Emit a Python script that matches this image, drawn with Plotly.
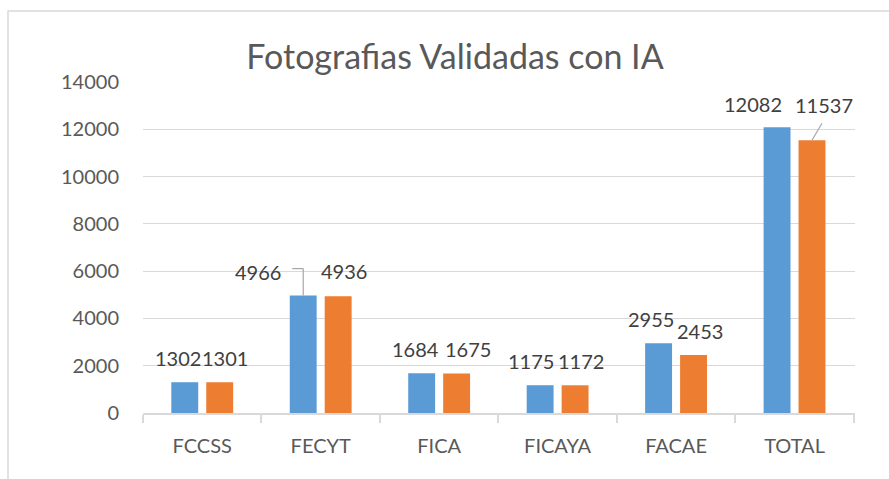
import plotly.graph_objects as go

categories = ["FCCSS", "FECYT", "FICA", "FICAYA", "FACAE", "TOTAL"]
serie_1 = [1302, 4966, 1684, 1175, 2955, 12082]
serie_2 = [1301, 4936, 1675, 1172, 2453, 11537]
y_ticks = [0, 2000, 4000, 6000, 8000, 10000, 12000, 14000]
y_tick_labels = ["0", "2000", "4000", "6000", "8000", "10000", "12000", "14000"]
title_text = "Fotografias Validadas con IA"

# label placement tweaks (pixels) imitating the Excel layout
lab_dx_1 = [-7, -45, -6, -9, -8, -24]
lab_dx_2 = [5, 6, 11, 6, 6, 12]
lab_dy_1 = [24, 24, 24, 24, 24, 23]
lab_dy_2 = [24, 25, 24, 24, 24, 35]

BLUE = "#5B9BD5"
ORANGE = "#ED7D31"
TXT = "#595959"
GRID = "#D9D9D9"
FONT = "Lato"
OFF = 0.1475  # half slot in category units

fig = go.Figure()
fig.add_trace(go.Bar(x=categories, y=serie_1, marker_color=BLUE, marker_line_width=0, name="1"))
fig.add_trace(go.Bar(x=categories, y=serie_2, marker_color=ORANGE, marker_line_width=0, name="2"))

annotations = []
for i, (a, b) in enumerate(zip(serie_1, serie_2)):
    annotations.append(dict(x=i - OFF, y=a, xref="x", yref="y", text=str(a), showarrow=False,
                            xshift=lab_dx_1[i], yshift=lab_dy_1[i], yanchor="middle",
                            font=dict(family=FONT, size=20, color="#404040")))
    annotations.append(dict(x=i + OFF, y=b, xref="x", yref="y", text=str(b), showarrow=False,
                            xshift=lab_dx_2[i], yshift=lab_dy_2[i], yanchor="middle",
                            font=dict(family=FONT, size=20, color="#404040")))

shapes = []
LEAD = "#A6A6A6"
# FECYT blue leader (elbow)
i = categories.index("FECYT")
shapes.append(dict(type="line", xref="x", yref="y", xsizemode="pixel", ysizemode="pixel",
                   xanchor=i - OFF, yanchor=serie_1[i], x0=0, x1=0, y0=0, y1=27,
                   line=dict(color=LEAD, width=1.2)))
shapes.append(dict(type="line", xref="x", yref="y", xsizemode="pixel", ysizemode="pixel",
                   xanchor=i - OFF, yanchor=serie_1[i], x0=0, x1=-11, y0=27, y1=27,
                   line=dict(color=LEAD, width=1.2)))
# TOTAL orange leader
i = categories.index("TOTAL")
shapes.append(dict(type="line", xref="x", yref="y", xsizemode="pixel", ysizemode="pixel",
                   xanchor=i + OFF, yanchor=serie_2[i], x0=0, x1=10, y0=0, y1=17,
                   line=dict(color=LEAD, width=1.2)))
# chart border
shapes.append(dict(type="rect", xref="paper", yref="paper",
                   x0=(8 - 143) / 712, x1=1.2, y0=-0.5, y1=1 + (82 - 11) / 331,
                   line=dict(color=GRID, width=1.5), fillcolor="rgba(0,0,0,0)", layer="below"))

fig.update_layout(
    width=889, height=479,
    margin=dict(l=143, r=34, t=82, b=66),
    paper_bgcolor="white", plot_bgcolor="white",
    showlegend=False,
    barmode="group", bargap=0.41, bargroupgap=0.23,
    font=dict(family=FONT, size=20, color=TXT),
    title=dict(text=title_text, x=(455 - 143) / 712, xref="paper", xanchor="center",
               y=1 - 57 / 479, yref="container", yanchor="middle",
               font=dict(family=FONT, size=34, color=TXT)),
    annotations=annotations,
    shapes=shapes,
)
fig.update_xaxes(type="category", showgrid=False, showline=True, linecolor=GRID, linewidth=1.5,
                 ticks="outside", tickson="boundaries", ticklen=8, tickcolor=GRID, tickwidth=1.5,
                 ticklabelstandoff=14, tickfont=dict(family=FONT, size=20, color=TXT))
fig.update_yaxes(range=[0, 14000], tickvals=y_ticks, ticktext=y_tick_labels,
                 showgrid=True, gridcolor=GRID, gridwidth=1.3,
                 zeroline=False, showline=False, ticks="", ticklabelstandoff=23,
                 tickfont=dict(family=FONT, size=20, color=TXT))

fig.write_html("out.html", config={"displayModeBar": False},
               post_script="document.body.style.margin='0';")
